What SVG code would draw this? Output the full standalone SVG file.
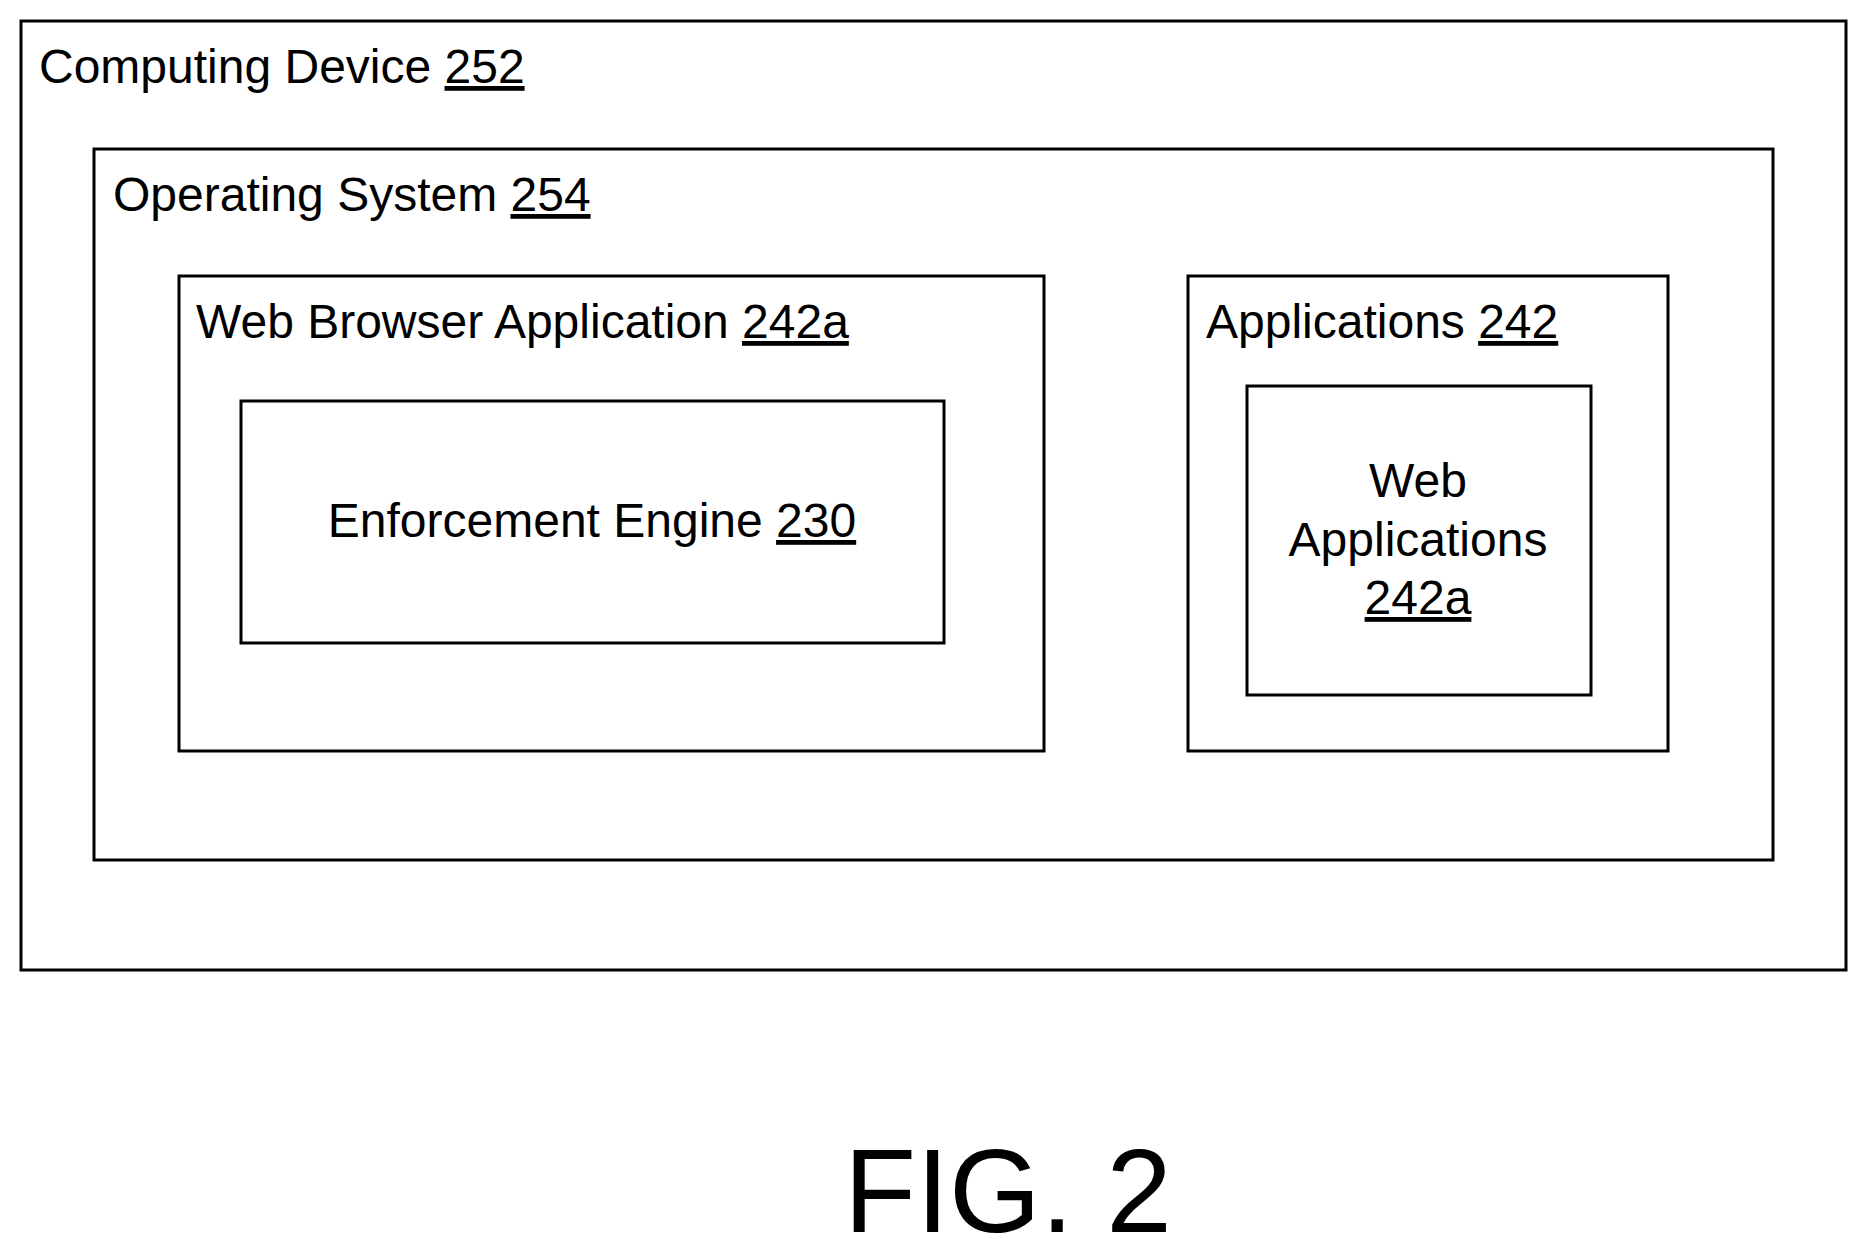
<svg xmlns="http://www.w3.org/2000/svg" width="1867" height="1257" viewBox="0 0 1867 1257">
<style>
rect{fill:none;stroke:#000;stroke-width:3}
text{font-family:"Liberation Sans",Arial,sans-serif;font-size:48px;fill:#000}
.u{text-decoration:underline}
</style>
<rect x="0" y="0" width="1867" height="1257" style="fill:#fff;stroke:none"/>
<g id="computing-device"><rect x="21" y="21" width="1825" height="949"/><text x="39" y="83">Computing Device <tspan class="u">252</tspan></text></g>
<g id="operating-system"><rect x="94" y="149" width="1679" height="711"/><text x="113" y="211">Operating System <tspan class="u">254</tspan></text></g>
<g id="web-browser"><rect x="179" y="276" width="865" height="475"/><text x="196" y="338">Web Browser Application <tspan class="u">242a</tspan></text></g>
<g id="enforcement-engine"><rect x="241" y="401" width="703" height="242"/><text x="592" y="537" text-anchor="middle">Enforcement Engine <tspan class="u">230</tspan></text></g>
<g id="applications"><rect x="1188" y="276" width="480" height="475"/><text x="1206" y="338">Applications <tspan class="u">242</tspan></text></g>
<g id="web-applications"><rect x="1247" y="386" width="344" height="309"/><text x="1418" y="497" text-anchor="middle">Web</text><text x="1418" y="556" text-anchor="middle">Applications</text><text x="1418" y="614" text-anchor="middle" class="u">242a</text></g>
<g id="connectors"></g>
<text x="1008" y="1232" text-anchor="middle" style="font-size:118px">FIG. 2</text>
</svg>
